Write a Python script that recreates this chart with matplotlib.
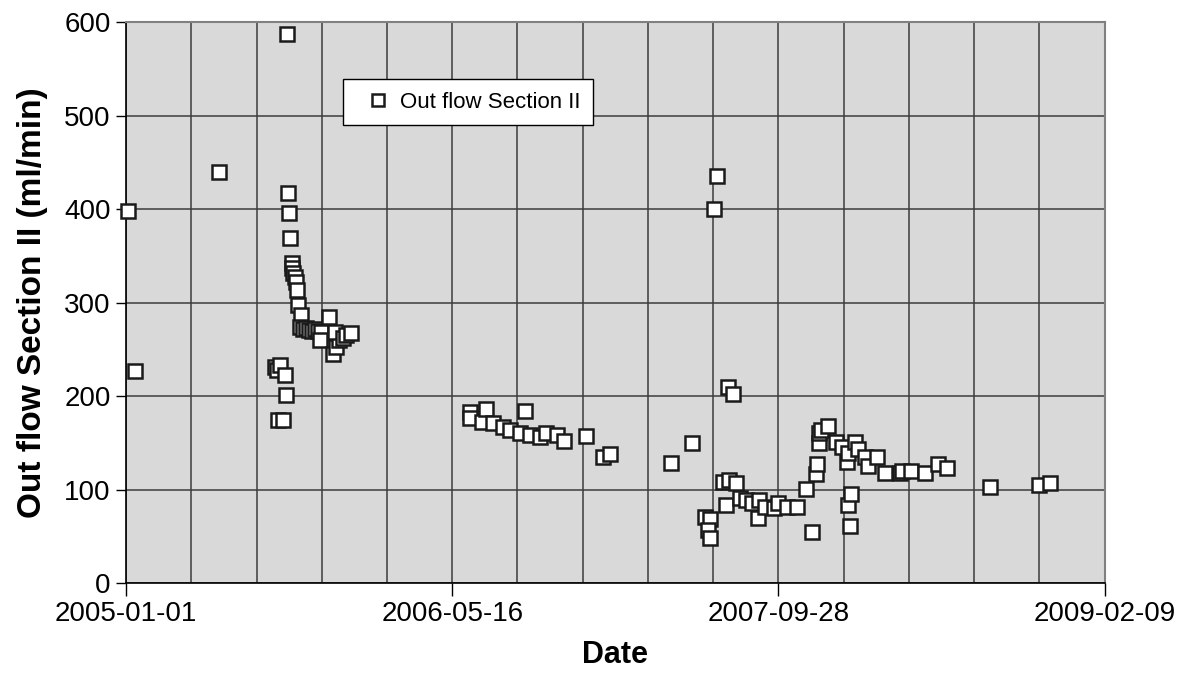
import datetime as dt

import matplotlib
matplotlib.use("Agg")
import matplotlib.pyplot as plt

plt.rcParams["font.family"] = ["Liberation Sans", "DejaVu Sans"]

START = dt.date(2005, 1, 1)
END = dt.date(2009, 2, 9)

# days after 2005-01-01 and out flow (ml/min)
days = [3, 14, 142, 247, 248, 250, 251, 254, 255, 256, 259, 260, 262, 264,
        268, 267, 271, 276, 280, 285, 290, 294, 299, 311, 297, 317, 322, 326,
        320, 332, 337, 345, 228, 231, 236, 244, 233, 241, 245,
        527, 527, 545, 552, 562, 578, 588, 604, 611, 619, 634, 644, 660, 671,
        705, 731, 742,
        835, 867, 901, 906, 922, 930, 887, 895, 892, 895, 915, 925, 935, 920,
        941, 951, 959, 971, 968, 979, 994, 999, 1013, 1028,
        1042, 1051, 1057, 1059, 1062, 1063, 1066, 1076,
        1089, 1097, 1105, 1106, 1106, 1112, 1109,
        1117, 1122, 1132, 1137, 1151, 1163, 1186, 1190, 1204, 1224, 1244, 1258,
        1324, 1399, 1416]
outflow = [398, 227, 440, 587, 417, 396, 369, 342, 337, 332, 327, 322, 313, 297,
           287, 274, 272, 273, 271, 270, 272, 270, 268, 285, 260, 245, 252, 260,
           268, 262, 265, 267, 231, 228, 233, 223, 174, 174, 201,
           183, 177, 172, 186, 171, 167, 164, 161, 184, 158, 156, 161, 158, 152,
           157, 135, 138,
           128, 150, 400, 435, 210, 202, 71, 69, 57, 48, 108, 110, 107, 83,
           91, 89, 86, 89, 70, 81, 80, 86, 81, 81,
           101, 55, 117, 127, 150, 160, 164, 168,
           151, 146, 130, 139, 84, 95, 61,
           151, 143, 135, 125, 135, 118, 118, 120, 120, 118, 127, 123,
           103, 105, 107]

label_dates = ["2005-01-01", "2006-05-16", "2007-09-28", "2009-02-09"]
y_ticks = [0, 100, 200, 300, 400, 500, 600]

dates = [START + dt.timedelta(days=d) for d in days]
grid_dates = [START + dt.timedelta(days=d)
              for d in range(0, (END - START).days + 1, 100)]

fig = plt.figure(figsize=(11.89, 6.90), dpi=100)
ax = fig.add_axes([0.106, 0.155, 0.823, 0.813])
ax.set_facecolor("#d9d9d9")

ax.plot(dates, outflow, ls="none", marker="s", ms=10.5, mfc="white",
        mec="#1a1a1a", mew=1.8, label="Out flow Section II", zorder=3,
        clip_on=False)

ax.set_xlim(START, END)
ax.set_ylim(0, 600)
ax.set_yticks(y_ticks)
ax.set_xticks([dt.date.fromisoformat(s) for s in label_dates])
ax.set_xticklabels(label_dates)
ax.set_xticks(grid_dates, minor=True)
ax.tick_params(axis="x", which="minor", length=0)
ax.tick_params(axis="x", which="major", length=9, width=1, pad=4,
               labelsize=20, color="black")
ax.tick_params(axis="y", length=7, width=1, pad=4, labelsize=20)

ax.grid(True, which="both", color="#3c3c3c", lw=1.1)
ax.set_axisbelow(True)
for side in ("top", "right"):
    ax.spines[side].set_color("#808080")
    ax.spines[side].set_linewidth(1.5)
for side in ("left", "bottom"):
    ax.spines[side].set_color("black")
    ax.spines[side].set_linewidth(1.2)

ax.set_xlabel("Date", fontsize=22, fontweight="bold", labelpad=9)
ax.set_ylabel("Out flow Section II (ml/min)", fontsize=24, fontweight="bold",
              labelpad=12)

leg = ax.legend(loc="upper left", bbox_to_anchor=(0.222, 0.898),
                borderaxespad=0, fontsize=16, frameon=True, fancybox=False,
                borderpad=0.55, handlelength=2.0, handletextpad=0.0,
                markerscale=0.85, framealpha=1)
leg.get_frame().set_edgecolor("black")
leg.get_frame().set_linewidth(1.0)

fig.savefig("out.png", dpi=100)
